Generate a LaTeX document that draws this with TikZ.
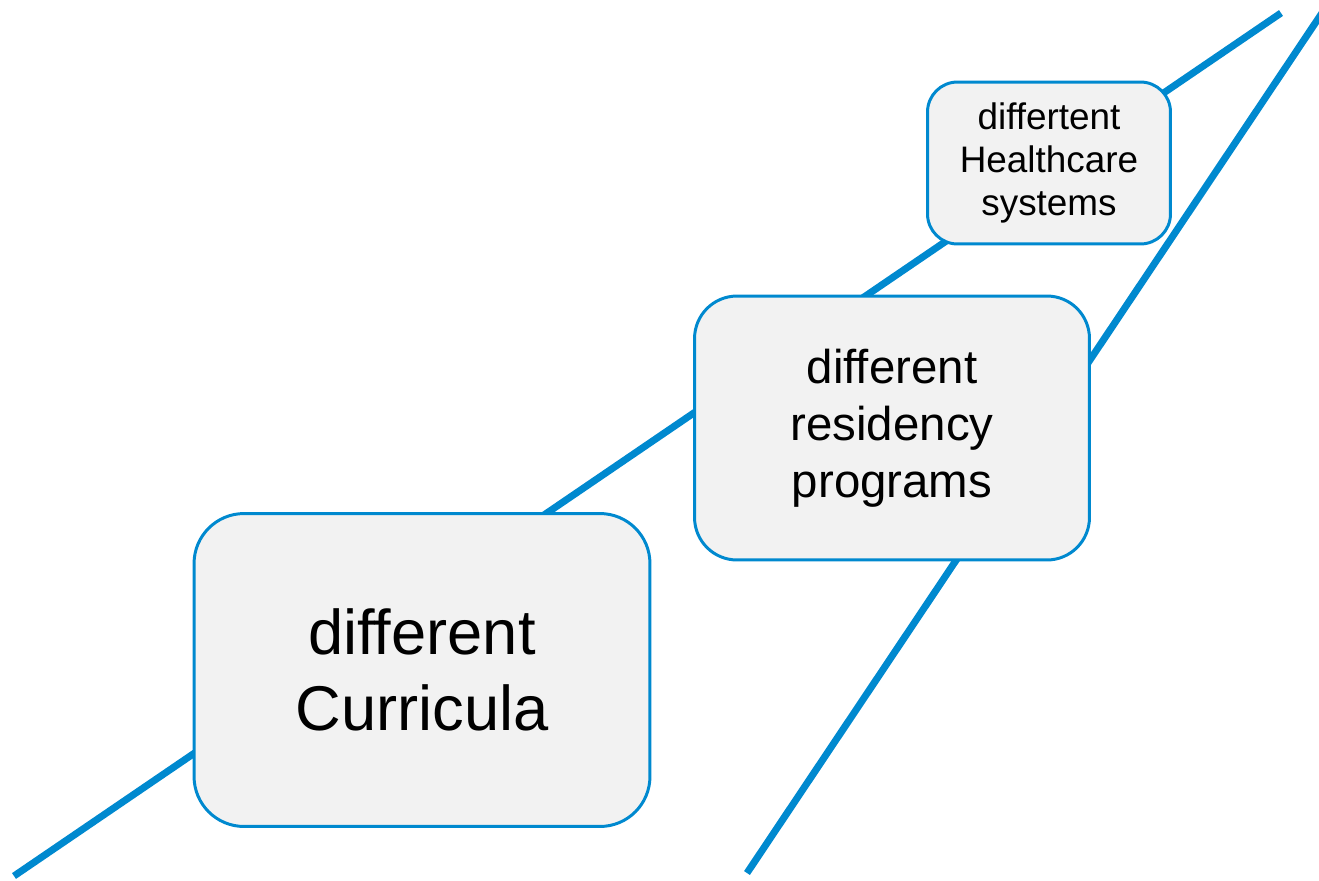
\documentclass[tikz,border=0pt]{standalone}
\usepackage{fontspec}
\setmainfont{Liberation Sans}
\definecolor{lineblue}{RGB}{0,137,207}
\definecolor{boxgray}{RGB}{242,242,242}

\begin{document}
\begin{tikzpicture}[x=0.02cm,y=-0.02cm,
    stage/.style={draw=lineblue, line width=1.7pt, fill=boxgray,
        rounded corners=#1, align=center, inner sep=0pt},
    track/.style={draw=lineblue, line width=4pt}]
    % Frame
    \useasboundingbox (0,0) rectangle (1319,880);
    \clip (0,0) rectangle (1319,880);

    % Lines
    \coordinate (lowA) at (14,876);
    \coordinate (highA) at (1281,13);
    \coordinate (lowB) at (747,873);
    \coordinate (highB) at (1330,1);
    \draw[track] (lowA) -- (highA);
    \draw[track] (lowB) -- (highB);

    % Boxes
    \node[stage=1cm,
        minimum width=9.12cm,
        minimum height=6.26cm,
        font=\fontsize{36}{43.5}\selectfont] (curricula) at (422,670) {different\\Curricula};
    \node[stage=0.85cm,
        minimum width=7.9cm,
        minimum height=5.28cm,
        font=\fontsize{27}{32.4}\selectfont] (residency) at (892,428) {different\\residency\\programs};
    \node[stage=0.6cm,
        minimum width=4.86cm,
        minimum height=3.24cm,
        font=\fontsize{21}{24.7}\selectfont] (healthcare) at (1049,163) {differtent\\Healthcare\\systems};
\end{tikzpicture}
\end{document}
